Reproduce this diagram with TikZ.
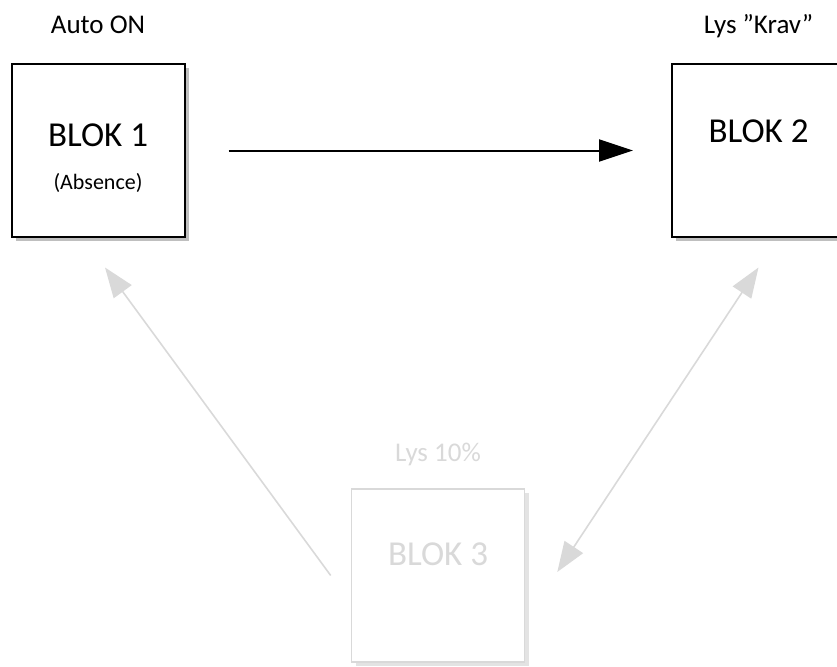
\documentclass[tikz,border=0pt]{standalone}
\usepackage{fontspec}
\setmainfont{Carlito}
\usetikzlibrary{positioning,arrows.meta,shadows}
\definecolor{fadegray}{HTML}{D9D9D9}
\begin{document}
\begin{tikzpicture}[x=0.5pt, y=0.5pt,
        blok/.style = {shape=rectangle, draw, fill=white, line width=1pt, align=center,
            minimum width=86.5pt, minimum height=86.5pt, font=\fontsize{17.5}{21}\selectfont},
        darkshadow/.style = {drop shadow={shadow xshift=2pt, shadow yshift=-2pt, opacity=.5}},
        lightshadow/.style = {drop shadow={shadow xshift=2pt, shadow yshift=-2pt, opacity=.22}},
        faded/.style = {draw=fadegray, text=fadegray, line width=.8pt},
        heading/.style = {inner sep=0pt, text depth=0pt, font=\fontsize{13.5}{16}\selectfont},
        fadearrow/.style = {draw=fadegray, line width=.8pt, -{Triangle[length=15pt, width=11pt]}}]
    \useasboundingbox (0,0) rectangle (837,666);

    \node[blok, darkshadow, text depth=15.5pt] (blok1) at (98,515.5) {BLOK 1};
    \node[font=\fontsize{11}{13}\selectfont] (absence) at ([yshift=-16.25pt]blok1.center) {(Absence)};
    \node[blok, darkshadow, text depth=19pt] (blok2) at (758.5,515.5) {BLOK 2};
    \node[blok, faded, lightshadow, text depth=21pt] (blok3) at (438,90.5) {BLOK 3};

    % overskrifter
    \node[heading, above=14.5pt of blok1] (auto) {Auto ON};
    \node[heading, above=14.5pt of blok2] (krav) {Lys ”Krav”};
    \node[heading, text=fadegray, above=13pt of blok3] (lys) {Lys 10\%};

    \draw[line width=1pt, -{Triangle[length=17pt, width=11pt]}, shorten <=21.5pt, shorten >=19pt] (blok1) -- (blok2);
    \draw[fadearrow] ([xshift=-10pt]blok3.west) -- ([shift={(3.5pt,-14.75pt)}]blok1.south);
    \draw[fadearrow, {Triangle[length=15pt, width=11pt]}-{Triangle[length=15pt, width=11pt]}]
        ([shift={(16pt,1.75pt)}]blok3.east) -- ([yshift=-14.75pt]blok2.south);

\end{tikzpicture}
\end{document}
